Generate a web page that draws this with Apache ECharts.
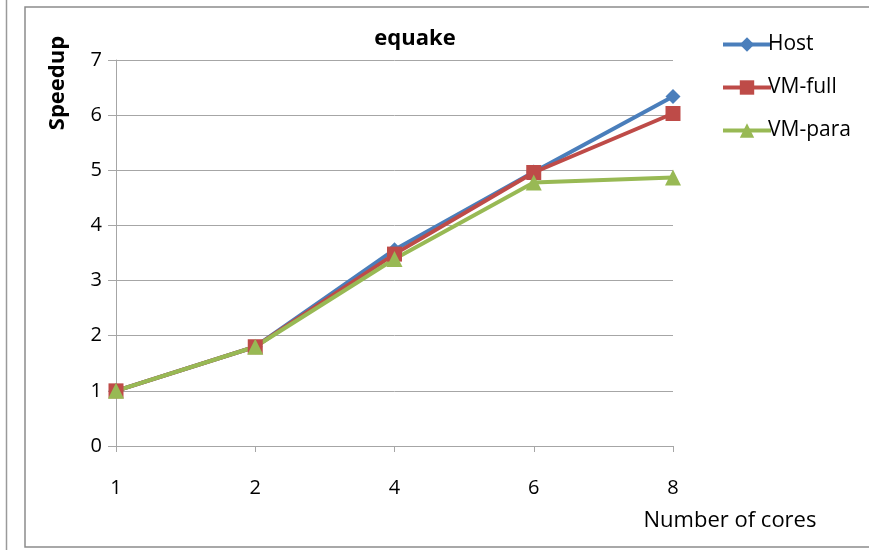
<!DOCTYPE html>
<html>
<head>
<meta charset="utf-8">
<script src="https://cdn.jsdelivr.net/npm/echarts@6/dist/echarts.min.js"></script>
<style>
  html, body { margin: 0; padding: 0; background: #fff; }
  #chart { width: 869px; height: 550px; }
</style>
</head>
<body>
<div id="chart"></div>
<script>
// Speedup of the equake benchmark versus core count
const cores = ['1', '2', '4', '6', '8'];
const hostSpeedup = [1.0, 1.8, 3.56, 4.97, 6.34];
const vmFullSpeedup = [1.0, 1.8, 3.48, 4.96, 6.03];
const vmParaSpeedup = [1.0, 1.8, 3.39, 4.78, 4.87];
const yTicks = [0, 7, 1];

const font = '"Open Sans", Lato, sans-serif';
const chart = echarts.init(document.getElementById('chart'));

chart.setOption({
  animation: false,
  backgroundColor: '#fff',
  textStyle: { fontFamily: font },
  title: {
    text: 'equake',
    left: 410,
    top: 23,
    textAlign: 'center',
    textStyle: { fontFamily: font, fontSize: 22, fontWeight: 'bold', color: '#000' }
  },
  grid: { left: 116, right: 196, top: 60, bottom: 104 },
  legend: {
    orient: 'vertical',
    left: 716,
    top: 29,
    itemWidth: 48,
    itemHeight: 18,
    itemGap: 22,
    lineStyle: { width: 4 },
    textStyle: { fontFamily: font, fontSize: 21, color: '#000', padding: [0, 0, 0, -8] },
    data: ['Host', 'VM-full', 'VM-para']
  },
  xAxis: {
    type: 'category',
    data: cores,
    boundaryGap: false,
    axisLine: { lineStyle: { color: '#a6a6a6', width: 1 } },
    axisTick: { alignWithLabel: true, length: 6, lineStyle: { color: '#a6a6a6' } },
    axisLabel: { margin: 32, fontFamily: font, fontSize: 20, color: '#000' },
    splitLine: { show: false }
  },
  yAxis: {
    type: 'value',
    min: yTicks[0],
    max: yTicks[1],
    interval: yTicks[2],
    axisLine: { show: true, lineStyle: { color: '#a6a6a6', width: 1 } },
    axisTick: { show: true, length: 8, lineStyle: { color: '#a6a6a6' } },
    axisLabel: { margin: 14, fontFamily: font, fontSize: 20, color: '#000' },
    splitLine: { lineStyle: { color: '#a6a6a6', width: 1 } }
  },
  series: [
    {
      name: 'Host', type: 'line', data: hostSpeedup,
      symbol: 'diamond', symbolSize: 15,
      color: '#4a7ebb',
      lineStyle: { width: 4, color: '#4a7ebb' },
      itemStyle: { color: '#4a7ebb' }
    },
    {
      name: 'VM-full', type: 'line', data: vmFullSpeedup,
      symbol: 'rect', symbolSize: 15,
      color: '#be4b48',
      lineStyle: { width: 4, color: '#be4b48' },
      itemStyle: { color: '#be4b48' }
    },
    {
      name: 'VM-para', type: 'line', data: vmParaSpeedup,
      symbol: 'triangle', symbolSize: 16,
      color: '#98b954',
      lineStyle: { width: 4, color: '#98b954' },
      itemStyle: { color: '#98b954' }
    }
  ],
  graphic: [
    // chart frame
    {
      type: 'rect', silent: true, z: -1,
      shape: { x: 25, y: 7, width: 860, height: 540 },
      style: { fill: 'none', stroke: '#8c8c8c', lineWidth: 1.5 }
    },
    // edge of the neighbouring frame
    {
      type: 'line', silent: true,
      shape: { x1: 6.5, y1: 0, x2: 6.5, y2: 550 },
      style: { stroke: '#9a9a9a', lineWidth: 1.5 }
    },
    {
      type: 'text', silent: true,
      x: 58, y: 83, rotation: Math.PI / 2,
      style: {
        text: 'Speedup', fontFamily: font, fontSize: 22, fontWeight: 'bold',
        fill: '#000', align: 'center', verticalAlign: 'middle'
      }
    },
    {
      type: 'text', silent: true,
      x: 730, y: 521,
      style: {
        text: 'Number of cores', fontFamily: font, fontSize: 22,
        fill: '#000', align: 'center', verticalAlign: 'middle'
      }
    }
  ]
});
</script>
</body>
</html>
